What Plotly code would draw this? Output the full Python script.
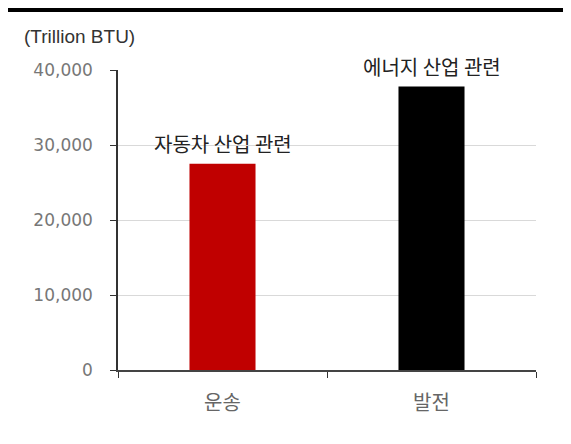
import plotly.graph_objects as go

categories = ["운송", "발전"]
values = [27500, 37800]
bar_labels = ["자동차 산업 관련", "에너지 산업 관련"]
bar_colors = ["#C00000", "#000000"]
y_ticks = [0, 10000, 20000, 30000, 40000]
y_tick_text = ["0", "10,000", "20,000", "30,000", "40,000"]
unit_label = "(Trillion BTU)"

# page body has an 8px margin; compensate so the plot lands where the reference has it
OFF = 8
W, H = 571 - OFF, 444 - OFF
L, T = 118 - OFF, 70 - OFF
pw, ph = 418, 300
R, B = W - L - pw, H - T - ph

fig = go.Figure()
fig.add_trace(go.Bar(
    x=categories, y=values, width=0.316,
    marker=dict(color=bar_colors, line=dict(width=0)),
    hoverinfo="skip",
))

for c, v, t in zip(categories, values, bar_labels):
    fig.add_annotation(x=c, y=v, text=t, showarrow=False, yanchor="bottom",
                       yshift=4, font=dict(family="Noto Sans CJK KR", size=20, color="#222"))

fig.add_annotation(xref="paper", yref="paper", x=(25 - 118) / pw, y=1 + (70 - 37) / ph,
                   text=unit_label, showarrow=False, xanchor="left", yanchor="middle",
                   xshift=-3,
                   font=dict(family="Liberation Sans", size=19, color="#333"))

fig.add_shape(type="line", xref="paper", yref="paper",
              x0=-L / pw, x1=(W - L) / pw, y0=1 + (T - 2) / ph, y1=1 + (T - 2) / ph,
              line=dict(color="black", width=4))

fig.update_layout(
    width=W, height=H, margin=dict(l=L, r=R, t=T, b=B, pad=0),
    paper_bgcolor="white", plot_bgcolor="white", showlegend=False,
    xaxis=dict(type="category", range=[-0.5, 1.5], tickson="boundaries",
               ticks="outside", ticklen=6, tickcolor="#333", showline=True,
               linecolor="#444", linewidth=1.5, showgrid=False,
               ticklabelstandoff=14,
               tickfont=dict(family="Noto Sans CJK KR", size=20, color="#666")),
    yaxis=dict(range=[0, 40000], tickvals=y_ticks, ticktext=y_tick_text,
               ticks="outside", ticklen=6, tickcolor="#333", showline=True,
               linecolor="#333", linewidth=1.5, gridcolor="#d9d9d9", gridwidth=1,
               zeroline=False, ticklabelstandoff=14,
               tickfont=dict(family="DejaVu Sans", size=17, color="#777")),
)

fig.write_html("out.html")
